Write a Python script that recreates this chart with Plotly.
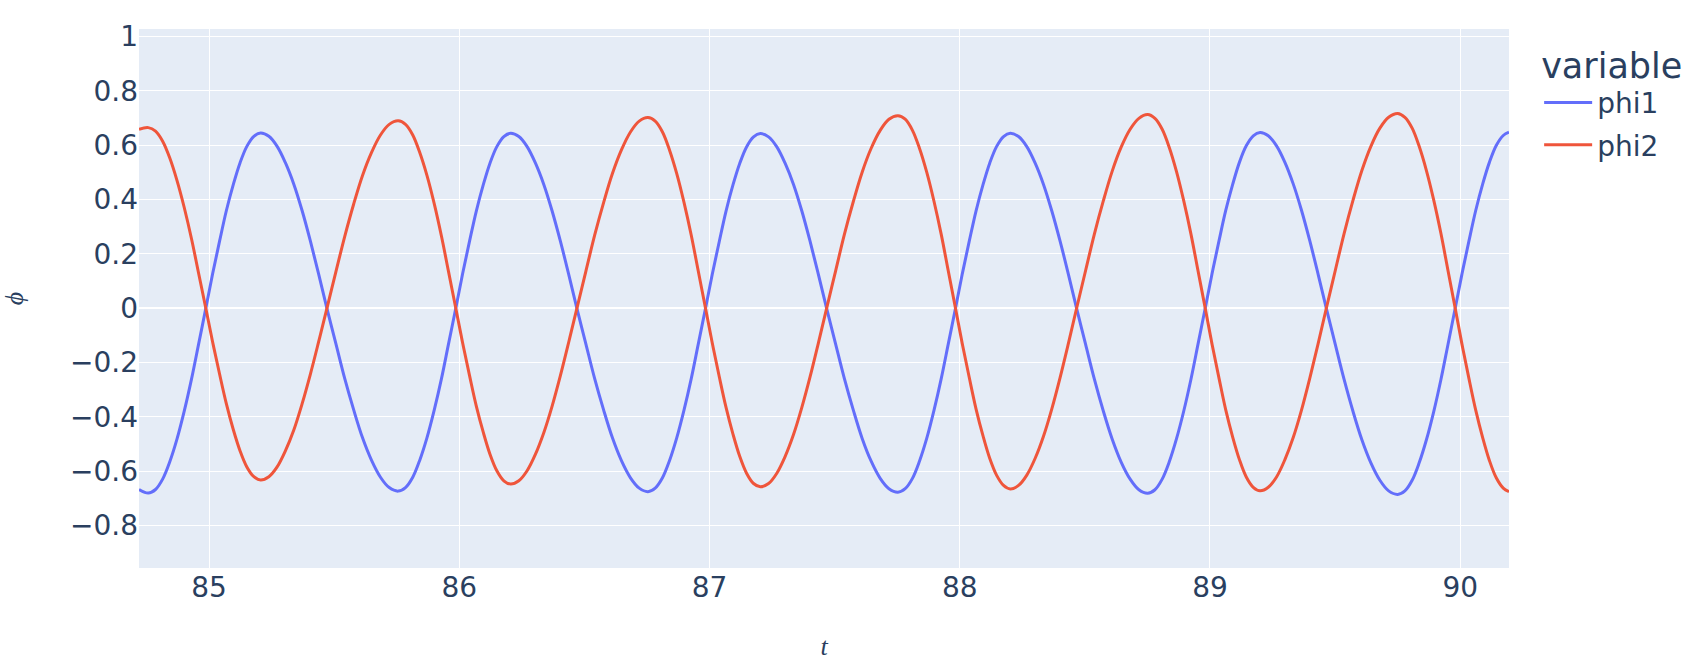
import plotly.graph_objects as go

# time samples (t)
t = [84.720,
     84.757, 84.786, 84.815, 84.843, 84.872, 84.901, 84.930, 84.958,
     84.987, 85.014, 85.042, 85.069, 85.097, 85.124, 85.151, 85.179,
     85.206, 85.239, 85.272, 85.305, 85.339, 85.372, 85.405, 85.438,
     85.471, 85.507, 85.542, 85.578, 85.613, 85.649, 85.685, 85.720,
     85.756, 85.785, 85.814, 85.842, 85.871, 85.900, 85.929, 85.957,
     85.986, 86.013, 86.041, 86.068, 86.096, 86.123, 86.150, 86.178,
     86.205, 86.238, 86.271, 86.304, 86.338, 86.371, 86.404, 86.437,
     86.470, 86.506, 86.541, 86.577, 86.612, 86.648, 86.684, 86.719,
     86.754, 86.783, 86.812, 86.840, 86.869, 86.898, 86.927, 86.955,
     86.984, 87.011, 87.039, 87.066, 87.094, 87.121, 87.148, 87.176,
     87.203, 87.236, 87.269, 87.302, 87.336, 87.369, 87.402, 87.435,
     87.468, 87.504, 87.539, 87.575, 87.610, 87.646, 87.682, 87.717,
     87.753, 87.782, 87.811, 87.839, 87.868, 87.897, 87.926, 87.954,
     87.983, 88.010, 88.038, 88.065, 88.093, 88.120, 88.147, 88.175,
     88.202, 88.235, 88.268, 88.301, 88.335, 88.368, 88.401, 88.434,
     88.467, 88.503, 88.538, 88.574, 88.609, 88.645, 88.681, 88.716,
     88.751, 88.780, 88.809, 88.837, 88.866, 88.895, 88.924, 88.952,
     88.981, 89.008, 89.036, 89.063, 89.091, 89.118, 89.145, 89.173,
     89.200, 89.233, 89.266, 89.299, 89.333, 89.366, 89.399, 89.432,
     89.465, 89.501, 89.536, 89.572, 89.607, 89.643, 89.679, 89.714,
     89.750, 89.779, 89.808, 89.836, 89.865, 89.894, 89.923, 89.951,
     89.980, 90.007, 90.035, 90.062, 90.090, 90.117, 90.144, 90.172,
     90.195]

phi1 = [-0.667,
        -0.680, -0.667, -0.628, -0.565, -0.481, -0.378, -0.260, -0.133,
        0.000, 0.126, 0.247, 0.359, 0.456, 0.536, 0.596, 0.633,
        0.645, 0.633, 0.596, 0.536, 0.456, 0.359, 0.247, 0.126,
        0.000, -0.131, -0.258, -0.374, -0.476, -0.559, -0.622, -0.660,
        -0.673, -0.660, -0.622, -0.559, -0.476, -0.374, -0.258, -0.131,
        0.000, 0.126, 0.247, 0.358, 0.455, 0.535, 0.595, 0.632,
        0.644, 0.632, 0.595, 0.535, 0.455, 0.358, 0.247, 0.126,
        0.000, -0.132, -0.259, -0.375, -0.477, -0.561, -0.624, -0.662,
        -0.675, -0.662, -0.624, -0.561, -0.477, -0.375, -0.259, -0.132,
        0.000, 0.125, 0.246, 0.358, 0.455, 0.534, 0.594, 0.631,
        0.643, 0.631, 0.594, 0.534, 0.455, 0.358, 0.246, 0.125,
        0.000, -0.132, -0.259, -0.376, -0.479, -0.563, -0.626, -0.664,
        -0.677, -0.664, -0.626, -0.563, -0.479, -0.376, -0.259, -0.132,
        0.000, 0.126, 0.247, 0.358, 0.455, 0.535, 0.595, 0.632,
        0.644, 0.632, 0.595, 0.535, 0.455, 0.358, 0.247, 0.126,
        0.000, -0.133, -0.261, -0.379, -0.481, -0.566, -0.629, -0.668,
        -0.681, -0.668, -0.629, -0.566, -0.481, -0.379, -0.261, -0.133,
        0.000, 0.126, 0.248, 0.360, 0.457, 0.538, 0.598, 0.635,
        0.647, 0.635, 0.598, 0.538, 0.457, 0.360, 0.248, 0.126,
        0.000, -0.134, -0.262, -0.381, -0.484, -0.569, -0.633, -0.672,
        -0.685, -0.672, -0.633, -0.569, -0.484, -0.381, -0.262, -0.134,
        0.000, 0.126, 0.248, 0.360, 0.458, 0.538, 0.599, 0.636,
        0.648]

phi2 = [0.659,
        0.665, 0.652, 0.614, 0.553, 0.470, 0.370, 0.255, 0.130,
        0.000, -0.123, -0.242, -0.351, -0.447, -0.525, -0.584, -0.620,
        -0.632, -0.620, -0.584, -0.525, -0.447, -0.351, -0.242, -0.123,
        0.000, 0.135, 0.264, 0.384, 0.488, 0.573, 0.638, 0.677,
        0.690, 0.677, 0.638, 0.573, 0.488, 0.384, 0.264, 0.135,
        0.000, -0.126, -0.248, -0.360, -0.457, -0.538, -0.598, -0.635,
        -0.647, -0.635, -0.598, -0.538, -0.457, -0.360, -0.248, -0.126,
        0.000, 0.137, 0.269, 0.390, 0.496, 0.583, 0.649, 0.689,
        0.702, 0.689, 0.649, 0.583, 0.496, 0.390, 0.269, 0.137,
        0.000, -0.128, -0.252, -0.365, -0.464, -0.546, -0.607, -0.645,
        -0.657, -0.645, -0.607, -0.546, -0.464, -0.365, -0.252, -0.128,
        0.000, 0.138, 0.272, 0.394, 0.501, 0.589, 0.655, 0.696,
        0.709, 0.696, 0.655, 0.589, 0.501, 0.394, 0.272, 0.138,
        0.000, -0.130, -0.255, -0.370, -0.470, -0.553, -0.614, -0.652,
        -0.665, -0.652, -0.614, -0.553, -0.470, -0.370, -0.255, -0.130,
        0.000, 0.139, 0.273, 0.396, 0.504, 0.593, 0.659, 0.699,
        0.713, 0.699, 0.659, 0.593, 0.504, 0.396, 0.273, 0.139,
        0.000, -0.131, -0.257, -0.374, -0.475, -0.558, -0.621, -0.659,
        -0.672, -0.659, -0.621, -0.558, -0.475, -0.374, -0.257, -0.131,
        0.000, 0.140, 0.275, 0.399, 0.507, 0.596, 0.663, 0.703,
        0.717, 0.703, 0.663, 0.596, 0.507, 0.399, 0.275, 0.140,
        0.000, -0.132, -0.259, -0.375, -0.477, -0.561, -0.624, -0.662,
        -0.675]

series_names = ["phi1", "phi2"]
series_colors = ["#636efa", "#EF553B"]
x_ticks = [85, 86, 87, 88, 89, 90]

fig = go.Figure()
for name, vals, col in zip(series_names, [phi1, phi2], series_colors):
    fig.add_trace(go.Scatter(x=t, y=vals, mode="lines", name=name, legendgroup=name,
                             line=dict(color=col, width=3, shape="spline")))

serif = "Liberation Serif, DejaVu Serif, serif"
fig.update_layout(
    width=1702, height=669,
    template="plotly",
    font=dict(family="Verdana, DejaVu Sans, sans-serif", size=28, color="#2a3f5f"),
    margin=dict(l=139, r=193, t=29, b=101),
    legend=dict(title=dict(text="variable", font=dict(size=35)), font=dict(size=28),
                tracegroupgap=3, itemwidth=48, x=1.022, y=0.994),
    xaxis=dict(range=[84.72, 90.195], tickvals=x_ticks, automargin=False,
               title=dict(text="<i>t</i>", font=dict(family=serif, size=26), standoff=33)),
    yaxis=dict(range=[-0.956, 1.028], dtick=0.2, tick0=0, automargin=False,
               title=dict(text="<i>ϕ</i>", font=dict(family=serif, size=26), standoff=54)),
)

fig.write_html("out.html", config={"displayModeBar": False},
               post_script="document.body.style.margin='0';document.body.style.overflow='hidden';")
